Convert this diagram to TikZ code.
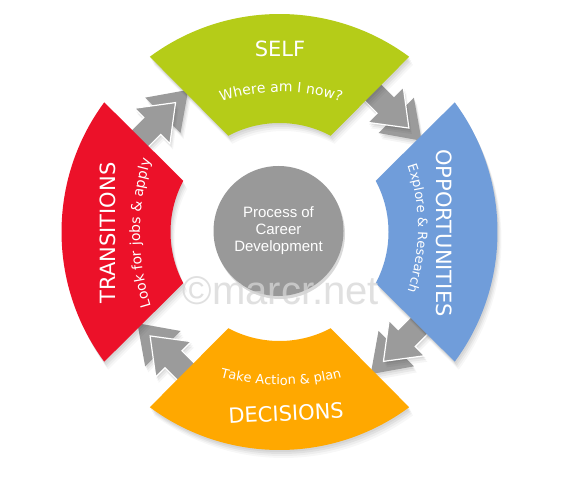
\documentclass[tikz,border=0pt]{standalone}
\usepackage{fontspec}
\newfontfamily\segfont{DejaVu Sans}
\newfontfamily\arialfont{Liberation Sans}
\usetikzlibrary{shadows,decorations.text}
\definecolor{segGreen}{HTML}{B5CC18}
\definecolor{segBlue}{HTML}{709DDA}
\definecolor{segRed}{HTML}{EC1129}
\definecolor{segOrange}{HTML}{FFA800}
\definecolor{arrowGray}{HTML}{9B9B9B}
\definecolor{hubGray}{HTML}{999999}
\definecolor{markGray}{HTML}{D6D6D6}
\tikzset{
  softshadow/.style={
    preaction={fill=black, fill opacity=0.05, transform canvas={xshift=1pt,yshift=-2pt}},
    preaction={fill=black, fill opacity=0.05, transform canvas={xshift=2pt,yshift=-4pt}},
    preaction={fill=black, fill opacity=0.04, transform canvas={xshift=3pt,yshift=-6pt}},
    preaction={fill=black, fill opacity=0.03, transform canvas={xshift=4pt,yshift=-8pt}}},
  arrowshadow/.style={
    preaction={fill=black, fill opacity=0.06, transform canvas={xshift=1pt,yshift=-2pt}},
    preaction={fill=black, fill opacity=0.05, transform canvas={xshift=2pt,yshift=-4pt}},
    preaction={fill=black, fill opacity=0.04, transform canvas={xshift=3pt,yshift=-6pt}}},
  flowarrow/.style={fill=arrowGray, draw=white, line width=1.2pt, line join=miter},
  headpiece/.style={fill=arrowGray},
  title/.style={text=white, font=\segfont\fontsize{21}{24}\selectfont, inner sep=0pt},
  hub/.style={circle, fill=hubGray, minimum size=130pt, inner sep=0pt, text=white, align=center,
    font=\arialfont\fontsize{15}{17}\selectfont,
    drop shadow={shadow xshift=1.5pt,shadow yshift=-3pt,opacity=0.15,fill=black}},
  watermarktext/.style={font=\arialfont\fontsize{40}{42}\selectfont, text=markGray, opacity=0.75, inner sep=0pt}
}
\begin{document}
\begin{tikzpicture}[x=1pt,y=1pt]
\useasboundingbox (0,0) rectangle (569,490);
\fill[white] (0,0) rectangle (569,490);
% arrows
\foreach \a in {45,-45,-135,135}{
  \begin{scope}[shift={(279.5,258)}, rotate=\a]
    \path[headpiece, arrowshadow] (140,0) -- (165,-36) -- (190,0) -- cycle;
    \path[flowarrow, arrowshadow] (153,70) -- (153,15) -- (140,15) -- (165,-18) -- (190,15) -- (177,15) -- (177,70) -- cycle;
  \end{scope}
}
% segments
\begin{scope}[shift={(279.5,258)}]
  \path[fill=segGreen, softshadow] (62:109) arc[start angle=62, end angle=118, radius=109] -- (126.5:218) arc[start angle=126.5, end angle=53.5, radius=218] -- cycle;
  \path[fill=segBlue, softshadow] (-28:109) arc[start angle=-28, end angle=28, radius=109] -- (36.5:218) arc[start angle=36.5, end angle=-36.5, radius=218] -- cycle;
  \path[fill=segOrange, softshadow] (242:109) arc[start angle=242, end angle=298, radius=109] -- (306.5:218) arc[start angle=306.5, end angle=233.5, radius=218] -- cycle;
  \path[fill=segRed, softshadow] (152:109) arc[start angle=152, end angle=208, radius=109] -- (216.5:218) arc[start angle=216.5, end angle=143.5, radius=218] -- cycle;
\end{scope}
% titles
\node[title] (self) at (280,441) {SELF};
\node[title, rotate=-90] (opp) at (444,257) {OPPORTUNITIES};
\node[title, rotate=3] (dec) at (286,77) {DECISIONS};
\node[title, rotate=90] (trans) at (108,257) {TRANSITIONS};
% subtitles on arcs
\path[decorate, decoration={text along path, text align=center,
  text={|\segfont\fontsize{14}{16}\selectfont\color{white}|Where am I now?}}]
  (281,208) ++(125:190) arc[start angle=125, end angle=55, radius=190];
\path[decorate, decoration={text along path, text align=center,
  text={|\segfont\fontsize{13}{15}\selectfont\color{white}|Explore {\&} Research}}]
  (226,262) ++(35:192) arc[start angle=35, end angle=-35, radius=192];
\path[decorate, decoration={text along path, text align=center,
  text={|\segfont\fontsize{13}{15}\selectfont\color{white}|Take Action {\&} plan}}]
  (281,340) ++(235:235) arc[start angle=235, end angle=305, radius=235];
\path[decorate, decoration={text along path, text align=center,
  text={|\segfont\fontsize{14}{16}\selectfont\color{white}|Look for jobs {\&} apply}}]
  (390,257) ++(205:250) arc[start angle=205, end angle=155, radius=250];
% hub
\node[hub] (hub) at (278.5,259) {Process of\\Career\\Development};
% watermark
\node[watermarktext] (wm) at (281,199) {©marcr.net};
\end{tikzpicture}
\end{document}
